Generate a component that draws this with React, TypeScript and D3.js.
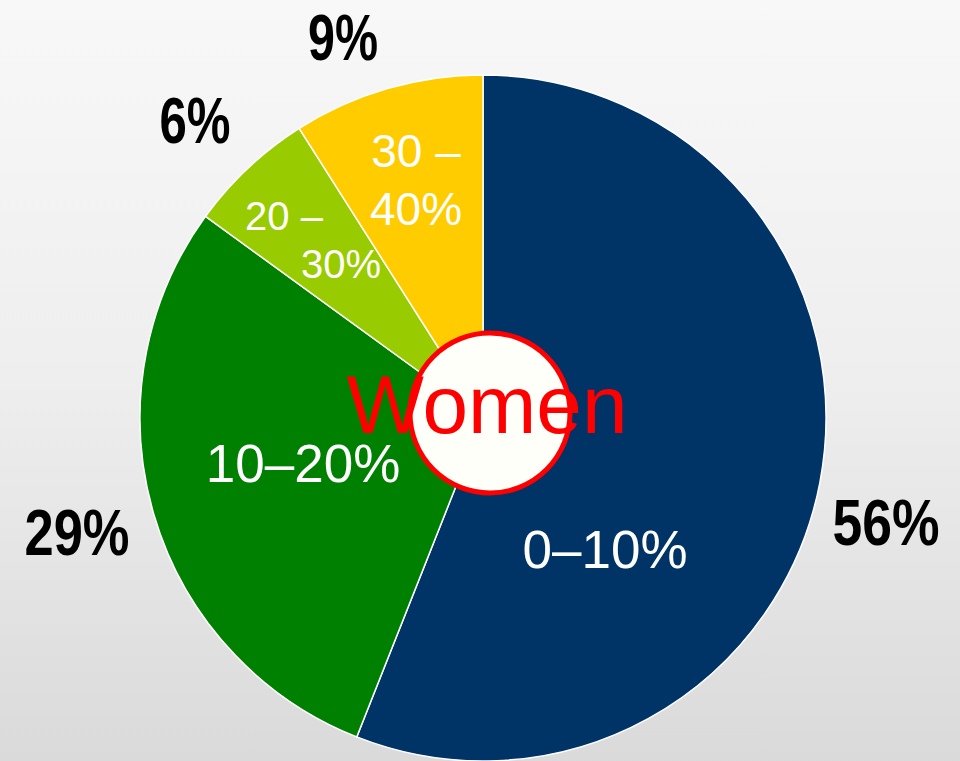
import React from "react"
import * as d3 from "d3"

// share of women by band
const bands = ["0–10%", "10–20%", "20 – 30%", "30 – 40%"]
const shares = [56, 29, 6, 9]
const colors = ["#003366", "#008000", "#99cc00", "#ffcc00"]
const shareLabels = ["56%", "29%", "6%", "9%"]
const centerLabel = "Women"

// label layout, offsets from pie centre (lines of each band label)
const innerLayout = [
  [{ text: "0–10%", dx: 122, dy: 150, size: 53 }],
  [{ text: "10–20%", dx: -180, dy: 64, size: 53 }],
  [
    { text: "20 –", dx: -199, dy: -188, size: 40 },
    { text: "30%", dx: -142, dy: -140, size: 40 },
  ],
  [
    { text: "30 –", dx: -67, dy: -251, size: 46 },
    { text: "40%", dx: -67, dy: -193, size: 46 },
  ],
]
const outerLayout = [
  { dx: 403, dy: 127, len: 107 },
  { dx: -406, dy: 137, len: 105 },
  { dx: -288, dy: -275, len: 71 },
  { dx: -140, dy: -358, len: 70 },
]

const App = () => {
  const width = 960
  const height = 761
  const cx = 483
  const cy = 418
  const radius = 343

  const pie = d3
    .pie<number>()
    .sort(null)
    .value((d) => d)
  const arcs = pie(shares)
  const arc = d3.arc<d3.PieArcDatum<number>>().innerRadius(0).outerRadius(radius)

  return (
    <svg
      width={width}
      height={height}
      style={{ position: "absolute", left: 0, top: 0 }}
      fontFamily="Arial, 'Liberation Sans', sans-serif"
    >
      <defs>
        <linearGradient id="bg" x1="0" y1="0" x2="0" y2="1">
          <stop offset="0" stopColor="#f8f8f8" />
          <stop offset="0.5" stopColor="#eeeeee" />
          <stop offset="1" stopColor="#dadada" />
        </linearGradient>
      </defs>
      <rect width={width} height={height} fill="url(#bg)" />
      <g transform={`translate(${cx},${cy})`}>
        {arcs.map((a, i) => (
          <path
            key={bands[i]}
            d={arc(a) || ""}
            fill={colors[i]}
            stroke="#ffffff"
            strokeWidth={1.5}
          />
        ))}
        {innerLayout.map((lines, i) =>
          lines.map((l, j) => (
            <text
              key={`${i}-${j}`}
              x={l.dx}
              y={l.dy}
              fill="#ffffff"
              fontSize={l.size}
              textAnchor="middle"
            >
              {l.text}
            </text>
          ))
        )}
        {outerLayout.map((o, i) => (
          <text
            key={shareLabels[i]}
            x={o.dx}
            y={o.dy}
            fontSize={64}
            fontWeight="bold"
            textAnchor="middle"
            textLength={o.len}
            lengthAdjust="spacingAndGlyphs"
            fill="#000000"
          >
            {shareLabels[i]}
          </text>
        ))}
        <circle
          cx={7}
          cy={-5}
          r={80}
          fill="#fffffa"
          stroke="#ff0000"
          strokeWidth={5}
        />
        <text x={4} y={15} fontSize={82} fill="#ff0000" textAnchor="middle">
          {centerLabel}
        </text>
      </g>
    </svg>
  )
}

export default App
